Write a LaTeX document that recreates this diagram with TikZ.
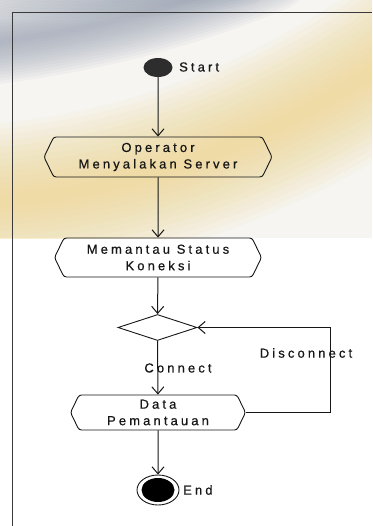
\documentclass[tikz,border=0pt]{standalone}
\usepackage{fontspec}
\usetikzlibrary{shapes.geometric,shapes.symbols,arrows.meta}
\newfontfamily\diagfont{Liberation Sans}[LetterSpace=24, FakeBold=0.6]
\definecolor{ink}{HTML}{161616}
\definecolor{swoosh}{HTML}{8E99AC}
\definecolor{glow}{HTML}{EFCF78}
\definecolor{paper}{HTML}{F6F5F2}
\tikzset{
  x=1pt, y=-1pt,
  every node/.style={font=\diagfont\fontsize{13}{16.5}\selectfont, text=ink},
  actbox/.style={signal, signal to=west and east, signal pointer angle=128,
    draw=ink, line width=0.9pt, rounded corners=2.5pt, inner sep=0pt,
    align=center},
  flow/.style={draw=ink, line width=1pt, -{Straight Barb[length=7pt,width=12pt]}},
  lbl/.style={inner sep=0pt},
}
\begin{document}
\begin{tikzpicture}
\useasboundingbox (0,0) rectangle (372,526);
% slide background behind the upper part
\begin{scope}
  \clip (0,0) rectangle (372,238);
  \fill[paper] (0,0) rectangle (372,238);
  % soft yellow band rising to the right
  \foreach \w in {12,24,...,156}
    \draw[glow, line width=\w, opacity=0.065, line cap=round]
      (-60,205) .. controls (100,200) and (250,160) .. (420,40);
  % grey-blue swoosh across the top left
  \foreach \w in {6,12,...,84}
    \draw[swoosh, line width=\w, opacity=0.065, line cap=round]
      (-60,48) .. controls (60,38) and (170,12) .. (270,-30);
  \foreach \w in {6,12,...,36}
    \draw[swoosh, line width=\w, opacity=0.05, line cap=round]
      (-40,-4) .. controls (60,2) and (160,4) .. (250,-14);
\end{scope}
% frame of the activity diagram
\draw[ink!85, line width=0.9pt] (372,12) -- (12,12) -- (12,526);
% nodes
\node[ellipse, fill=ink!90, minimum width=29pt, minimum height=19pt, inner sep=0pt]
  (start) at (158,67.5) {};
\node[lbl, anchor=west] (startlbl) at (179,67) {Start};
\node[actbox, minimum width=228pt, minimum height=40pt] (op) at (158,157)
  {Operator\\Menyalakan Server};
\node[actbox, minimum width=207pt, minimum height=39pt] (mon) at (158,257.5)
  {Memantau Status\\Koneksi};
\node[diamond, draw=ink, line width=0.9pt, aspect=3, minimum width=79pt,
  minimum height=26pt, inner sep=0pt] (dec) at (157.5,327.5) {};
\node[actbox, minimum width=175pt, minimum height=35pt] (data) at (158,412.5)
  {Data\\Pemantauan};
\node[ellipse, draw=ink, line width=0.9pt, minimum width=42pt, minimum height=30pt,
  inner sep=0pt] (end) at (158,490) {};
\node[ellipse, fill=black, minimum width=33pt, minimum height=24pt, inner sep=0pt]
  (endin) at (end.center) {};
\node[lbl, anchor=west] (endlbl) at (183,490) {End};
\coordinate (loop) at (330,412.5);
% connectors
\draw[flow] (start) -- (op);
\draw[flow] (op) -- (mon);
\draw[flow] (mon) -- (dec);
\draw[flow] (dec) -- (data);
\draw[flow] (data) -- (end);
\draw[flow] (data.east) -- (loop) |- (dec.east);
% guard labels
\node[lbl] (conn) at (178,368) {Connect};
\node[lbl] (disc) at (306,353) {Disconnect};
\end{tikzpicture}
\end{document}
